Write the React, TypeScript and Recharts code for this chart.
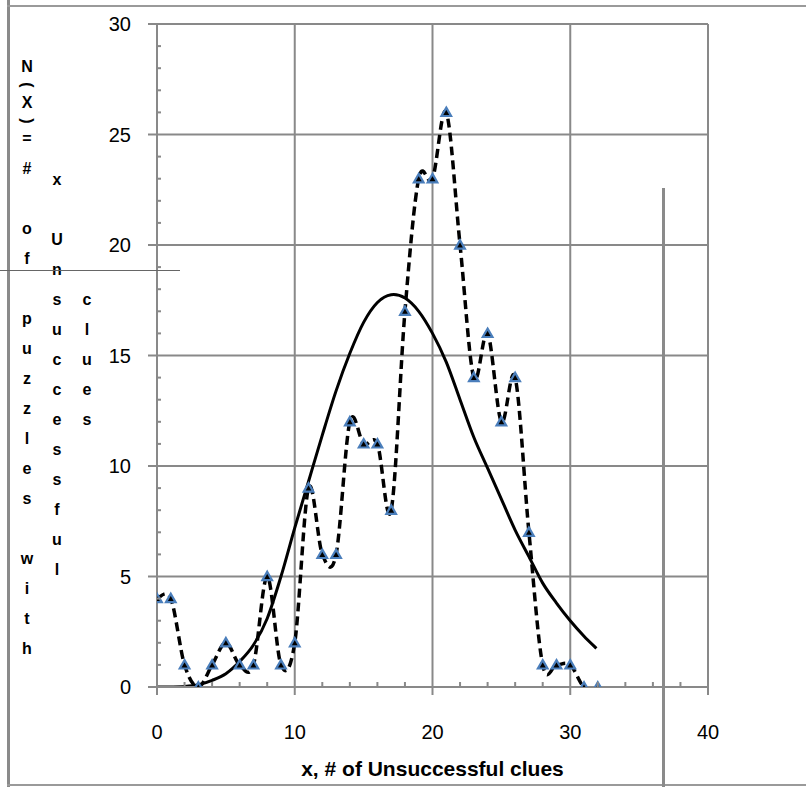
import React from "react";
import { LineChart, Line, XAxis, YAxis, ReferenceLine } from "recharts";

// observed counts, x = 0..32
const obsX = [0, 1, 2, 3, 4, 5, 6, 7, 8, 9, 10, 11, 12, 13, 14, 15, 16, 17, 18, 19, 20, 21, 22, 23, 24, 25, 26, 27, 28, 29, 30, 31, 32];
const obsY = [4, 4, 1, 0, 1, 2, 1, 1, 5, 1, 2, 9, 6, 6, 12, 11, 11, 8, 17, 23, 23, 26, 20, 14, 16, 12, 14, 7, 1, 1, 1, 0, 0];

// smooth fitted curve
const fitX = [0, 1, 2, 3, 4, 5, 6, 7, 8, 9, 10, 11, 12, 13, 14, 15, 16, 17, 18, 19, 20, 21, 22, 23, 24, 25, 26, 27, 28, 29, 30, 31, 31.9];
const fitY = [0, 0, 0.02, 0.1, 0.3, 0.6, 1.15, 1.9, 3.1, 5.0, 7.2, 9.3, 11.4, 13.4, 15.1, 16.5, 17.4, 17.75, 17.6, 17.0, 16.0, 14.7, 13.0, 11.3, 9.9, 8.5, 7.1, 5.9, 4.7, 3.8, 3.0, 2.3, 1.75];

const xTicks = [0, 2, 4, 6, 8, 10, 12, 14, 16, 18, 20, 22, 24, 26, 28, 30, 32, 34, 36, 38, 40];
const yTicks = [0, 1, 2, 3, 4, 5, 6, 7, 8, 9, 10, 11, 12, 13, 14, 15, 16, 17, 18, 19, 20, 21, 22, 23, 24, 25, 26, 27, 28, 29, 30];
const xGrid = [10, 20, 30, 40];
const yGrid = [5, 10, 15, 20, 25, 30];

const yTitleCols = ["N(X)=# of puzzles with", "x Unsuccessful", "clues"];

const observed = obsX.map((x, i) => ({ x, y: obsY[i] }));
const fitted = fitX.map((x, i) => ({ x, y: fitY[i] }));

const GRID = "#898989";
const FONT = "'Liberation Sans', Arial, sans-serif";

// Excel-style smoothing (catmull-rom through the points)
const excelSmooth = (context: any) => {
  let pts: number[][] = [];
  return {
    areaStart() {},
    areaEnd() {},
    lineStart() {
      pts = [];
    },
    point(x: number, y: number) {
      pts.push([+x, +y]);
    },
    lineEnd() {
      if (!pts.length) return;
      context.moveTo(pts[0][0], pts[0][1]);
      for (let i = 0; i < pts.length - 1; i++) {
        const p0 = pts[i - 1] || pts[i];
        const p1 = pts[i];
        const p2 = pts[i + 1];
        const p3 = pts[i + 2] || p2;
        context.bezierCurveTo(
          p1[0] + (p2[0] - p0[0]) / 6,
          p1[1] + (p2[1] - p0[1]) / 6,
          p2[0] - (p3[0] - p1[0]) / 6,
          p2[1] - (p3[1] - p1[1]) / 6,
          p2[0],
          p2[1]
        );
      }
    },
  };
};

const XTick = (props: any) => {
  const { x, y, payload } = props;
  const major = payload.value % 10 === 0;
  return (
    <g>
      {major ? (
        <line x1={x} x2={x} y1={y} y2={y + 8} stroke={GRID} strokeWidth={2} />
      ) : (
        <line x1={x} x2={x} y1={y - 5} y2={y} stroke={GRID} strokeWidth={2} />
      )}
      {major && (
        <text x={x} y={y + 52} textAnchor="middle" fontSize={20} fill="#000">
          {payload.value}
        </text>
      )}
    </g>
  );
};

const YTick = (props: any) => {
  const { x, y, payload } = props;
  const major = payload.value % 5 === 0;
  return (
    <g>
      {major ? (
        <line x1={x - 9} x2={x} y1={y} y2={y} stroke={GRID} strokeWidth={2} />
      ) : (
        <line x1={x} x2={x + 4} y1={y} y2={y} stroke={GRID} strokeWidth={2} />
      )}
      {major && (
        <text x={x - 26} y={y + 7} textAnchor="end" fontSize={20} fill="#000">
          {payload.value}
        </text>
      )}
    </g>
  );
};

const Tri = (props: any) => {
  const { cx, cy, index } = props;
  if (cx == null || cy == null) return null;
  return (
    <polygon
      key={`tri-${index}`}
      points={`${cx},${cy - 4.8} ${cx + 4.8},${cy + 3.6} ${cx - 4.8},${cy + 3.6}`}
      fill="#000"
      stroke="#4a7ebb"
      strokeWidth={2.2}
    />
  );
};

// stacked (one letter per row) y axis title, three columns like the original
const StackedTitle = () => {
  const colX = [27, 57, 87];
  const colTop = [52, 165, 285];
  return (
    <>
      {yTitleCols.map((txt, c) => {
        let top = colTop[c];
        return txt.split("").map((ch, i) => {
          const paren = ch === "(" || ch === ")";
          const h = paren ? 6 : 30;
          const el = (
            <span
              key={`${c}-${i}`}
              style={{
                position: "absolute",
                left: colX[c] - 10,
                top: top + h / 2 - 15,
                width: 20,
                height: 30,
                lineHeight: "30px",
                textAlign: "center",
                fontFamily: FONT,
                fontWeight: "bold",
                fontSize: 16,
                color: "#000",
                transform: paren ? "rotate(90deg)" : undefined,
              }}
            >
              {ch === " " ? "\u00a0" : ch}
            </span>
          );
          top += h;
          return el;
        });
      })}
    </>
  );
};

export default function App() {
  return (
    <div style={{ position: "absolute", left: 0, top: 0, width: 806, height: 787, background: "#fff", overflow: "hidden" }}>
      <LineChart
        width={806}
        height={787}
        margin={{ top: 24, right: 98, left: 97, bottom: 5 }}
        style={{ fontFamily: FONT }}
      >
        <XAxis
          dataKey="x"
          type="number"
          domain={[0, 40]}
          ticks={xTicks}
          interval={0}
          tickSize={0}
          tickMargin={0}
          tickLine={false}
          tick={<XTick />}
          axisLine={{ stroke: GRID, strokeWidth: 2 }}
          height={95}
          allowDataOverflow
          label={{
            value: "x, # of Unsuccessful clues",
            position: "insideBottom",
            offset: 6,
            fontSize: 21,
            fontWeight: "bold",
            fill: "#000",
          }}
        />
        <YAxis
          type="number"
          domain={[0, 30]}
          ticks={yTicks}
          interval={0}
          tickSize={0}
          tickMargin={0}
          tickLine={false}
          tick={<YTick />}
          axisLine={{ stroke: GRID, strokeWidth: 2 }}
          width={60}
          allowDataOverflow
        />
        {xGrid.map((v) => (
          <ReferenceLine key={`gx${v}`} x={v} stroke={GRID} strokeWidth={2} />
        ))}
        {yGrid.map((v) => (
          <ReferenceLine key={`gy${v}`} y={v} stroke={GRID} strokeWidth={2} />
        ))}
        <Line
          data={fitted}
          dataKey="y"
          type={excelSmooth as any}
          stroke="#000"
          strokeWidth={3}
          dot={false}
          activeDot={false}
          isAnimationActive={false}
        />
        <Line
          data={observed}
          dataKey="y"
          type={excelSmooth as any}
          stroke="#000"
          strokeWidth={3.5}
          strokeDasharray="9 5"
          dot={Tri}
          activeDot={false}
          isAnimationActive={false}
        />
      </LineChart>
      <StackedTitle />
      {/* frame lines around the captured sheet area */}
      <div style={{ position: "absolute", left: 7, top: 0, width: 3, height: 787, background: "#8a8a8a" }} />
      <div style={{ position: "absolute", left: 7, top: 5, width: 799, height: 2, background: "#9a9a9a" }} />
      <div style={{ position: "absolute", left: 7, top: 784, width: 799, height: 2, background: "#9a9a9a" }} />
      <div style={{ position: "absolute", left: 662, top: 188, width: 3, height: 599, background: "#8a8a8a" }} />
      <div style={{ position: "absolute", left: 0, top: 270, width: 180, height: 1, background: "#666" }} />
    </div>
  );
}
